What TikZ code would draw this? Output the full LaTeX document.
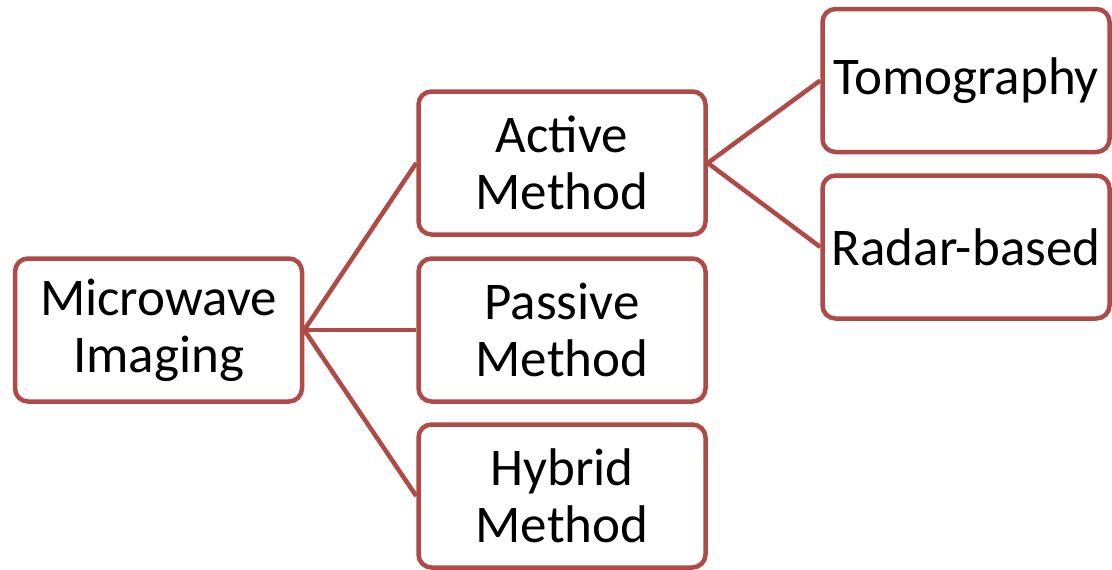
\documentclass[tikz,border=0pt]{standalone}
\usepackage{fontspec}
\setmainfont{Carlito}
\definecolor{boxred}{HTML}{B04A47}
\begin{document}
\begin{tikzpicture}[x=1pt,y=-1pt,
  itembox/.style={draw=boxred, line width=4.5pt, rounded corners=13pt, fill=white,
    minimum width=287pt, minimum height=143pt, inner sep=0pt, align=center,
    font=\fontsize{53}{57}\selectfont},
  link/.style={draw=boxred, line width=4.5pt}]
\useasboundingbox (0,0) rectangle (1112,570);
\node[itembox] (mi) at (158.5,330) {Microwave\\Imaging};
\node[itembox] (am) at (562,163) {Active\\Method};
\node[itembox] (pm) at (562,330) {Passive\\Method};
\node[itembox] (hm) at (562,496) {Hybrid\\Method};
\node[itembox] (tg) at (966,80.5) {Tomography};
\node[itembox] (rb) at (966,247) {Radar-based};
\draw[link] (mi.east) -- (am.west);
\draw[link] (mi.east) -- (pm.west);
\draw[link] (mi.east) -- (hm.west);
\draw[link] (am.east) -- (tg.west);
\draw[link] (am.east) -- (rb.west);
\end{tikzpicture}
\end{document}
